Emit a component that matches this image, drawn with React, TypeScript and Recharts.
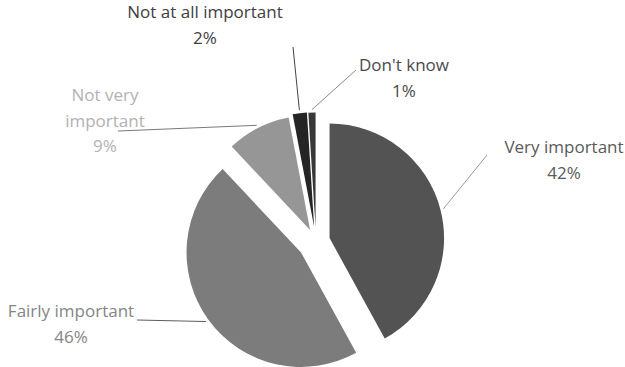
import React from 'react';
import { PieChart, Pie, Cell, Sector } from 'recharts';

// importance survey, shares in %
const categories = [
  'Very important',
  'Fairly important',
  'Not very important',
  'Not at all important',
  "Don't know",
];
const shares = [42, 46, 9, 2, 1];

const SLICE_COLORS = ['#535353', '#7c7c7c', '#969696', '#252525', '#383838'];
const TEXT_COLORS = ['#5a5a5a', '#858585', '#b2b2b2', '#404040', '#4a4a4a'];
const LINE_COLORS = ['#9a9a9a', '#5c5c5c', '#7a7a7a', '#444444', '#8a8a8a'];
// how far each slice is pulled out from the centre (px)
const EXPLODE = [14, 18.5, 13, 15, 14.5];

// label boxes: centre x, first baseline, where the leader line meets the label
const LABEL_LAYOUT = [
  { x: 564, y: 153, lineTo: [487, 155], breakAfter: 0 },
  { x: 71, y: 317, lineTo: [137, 320], breakAfter: 0 },
  { x: 105, y: 101, lineTo: [118, 131], breakAfter: 2 },
  { x: 205, y: 18, lineTo: [293, 47], breakAfter: 0 },
  { x: 404, y: 71, lineTo: [356, 70], breakAfter: 0 },
];
const LINE_HEIGHT = 25.5;
const FONT = '"Open Sans", "Noto Sans", sans-serif';

const RADIAN = Math.PI / 180;

const data = categories.map((name, i) => ({ name, value: shares[i] }));

const offsetFor = (name: string, midAngle: number) => {
  const d = EXPLODE[categories.indexOf(name)] ?? 0;
  return {
    dx: d * Math.cos(-midAngle * RADIAN),
    dy: d * Math.sin(-midAngle * RADIAN),
  };
};

const ExplodedSector = (props: any) => {
  const { cx, cy, midAngle, innerRadius, outerRadius, startAngle, endAngle, fill } = props;
  const name = props.name ?? props.payload?.name;
  const { dx, dy } = offsetFor(name, midAngle);
  return (
    <Sector
      cx={cx + dx}
      cy={cy + dy}
      innerRadius={innerRadius}
      outerRadius={outerRadius}
      startAngle={startAngle}
      endAngle={endAngle}
      fill={fill}
      stroke="none"
    />
  );
};

const renderLabel = (props: any) => {
  const { cx, cy, midAngle, outerRadius, percent, index } = props;
  const name = categories[index];
  const layout = LABEL_LAYOUT[index];
  const { dx, dy } = offsetFor(name, midAngle);
  const r = outerRadius + 3;
  const sx = cx + dx + r * Math.cos(-midAngle * RADIAN);
  const sy = cy + dy + r * Math.sin(-midAngle * RADIAN);

  const words = name.split(' ');
  const lines =
    layout.breakAfter > 0
      ? [words.slice(0, layout.breakAfter).join(' '), words.slice(layout.breakAfter).join(' ')]
      : [name];
  lines.push(`${Math.round(percent * 100)}%`);

  return (
    <g key={`lbl-${index}`}>
      <line
        x1={sx}
        y1={sy}
        x2={layout.lineTo[0]}
        y2={layout.lineTo[1]}
        stroke={LINE_COLORS[index]}
        strokeWidth={1}
      />
      <text
        x={layout.x}
        y={layout.y}
        textAnchor="middle"
        fill={TEXT_COLORS[index]}
        fontFamily={FONT}
        fontSize={17}
      >
        {lines.map((t, i) => (
          <tspan key={i} x={layout.x} dy={i === 0 ? 0 : LINE_HEIGHT}>
            {t}
          </tspan>
        ))}
      </text>
    </g>
  );
};

export default function App() {
  return (
    <div style={{ position: 'absolute', left: 0, top: 0, width: 625, height: 367, background: '#fff' }}>
      <PieChart width={625} height={367} margin={{ top: 0, right: 0, bottom: 0, left: 0 }}>
        <Pie
          data={data}
          dataKey="value"
          nameKey="name"
          cx={316}
          cy={241.6}
          outerRadius={114.5}
          startAngle={90}
          endAngle={-270}
          stroke="none"
          shape={ExplodedSector}
          label={renderLabel}
          labelLine={false}
          isAnimationActive={false}
        >
          {data.map((d, i) => (
            <Cell key={d.name} fill={SLICE_COLORS[i]} />
          ))}
        </Pie>
      </PieChart>
    </div>
  );
}
